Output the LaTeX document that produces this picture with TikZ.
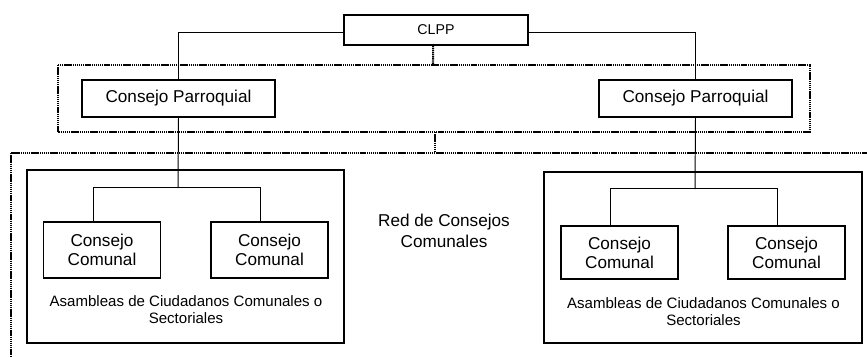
\documentclass[tikz,border=0pt]{standalone}
\usepackage{fontspec}
\setmainfont{Liberation Sans}
\tikzset{
  box/.style={draw, line width=0.8pt, inner sep=0pt, align=center, font=\fontsize{12.2}{13.6}\selectfont},
  parroquia/.style={box, minimum width=4.825cm, minimum height=0.925cm},
  comunal/.style={box, minimum width=2.925cm, minimum height=1.4cm},
  link/.style={line width=0.7pt},
  frame/.style={line width=1.5pt, dash pattern=on 1pt off 0.5pt},
  rotulo/.style={align=center, inner sep=0pt, font=\fontsize{12.2}{14.5}\selectfont},
  asamblea/.style={align=center, inner sep=0pt, font=\fontsize{10.7}{12}\selectfont},
}
\begin{document}
\begin{tikzpicture}[x=0.025cm, y=-0.025cm]
	\useasboundingbox (0,0) rectangle (867,356);
	\clip (0,0) rectangle (867,356);
	% marcos punteados
	\draw[frame] (58,65) rectangle (810,132);
	\draw[frame] (11,153) rectangle (880,380);
	% cajas de las asambleas
	\draw[line width=0.8pt] (27,170) rectangle (344,343);
	\draw[line width=0.8pt] (544,172) rectangle (862,343);
	% nodos
	\node[box, minimum width=4.6cm, minimum height=0.75cm, font=\fontsize{10.1}{12}\selectfont] (clpp) at (436,30) {\raisebox{-2pt}{CLPP}};
	\node[parroquia] (cpL) at (178.5,98.5) {Consejo Parroquial};
	\node[parroquia] (cpR) at (695.5,98.5) {Consejo Parroquial};
	\node[comunal] (ccA) at (102,250) {Consejo\\Comunal};
	\node[comunal] (ccB) at (269.5,250) {Consejo\\Comunal};
	\node[comunal, minimum height=1.325cm] (ccC) at (619.5,252.5) {Consejo\\Comunal};
	\node[comunal, minimum height=1.325cm] (ccD) at (786.5,252.5) {Consejo\\Comunal};
	\node[asamblea] (asmL) at (186,310) {Asambleas de Ciudadanos Comunales o\\Sectoriales};
	\node[asamblea] (asmR) at (703.5,312) {Asambleas de Ciudadanos Comunales o\\Sectoriales};
	\node[rotulo] (red) at (444,231) {Red de Consejos\\Comunales};
	% puntos de union
	\coordinate (jL) at (178,188);
	\coordinate (jR) at (695,189);
	\coordinate (f1) at (433,65);
	\coordinate (f2a) at (435,132);
	\coordinate (f2b) at (435,153);
	% conexiones
	\draw[link] ([yshift=-2pt]clpp.west) -| (cpL.north);
	\draw[link] ([yshift=-2pt]clpp.east) -| (cpR.north);
	\draw[frame] ([xshift=-2pt]clpp.south) -- (f1);
	\draw[frame] (f2a) -- (f2b);
	\draw[link] (cpL.south) -- (jL);
	\draw[link] (cpR.south) -- (jR);
	\draw[link] ([xshift=-0.22cm]ccA.north) -- ++(0,-34) -| ([xshift=-0.22cm]ccB.north);
	\draw[link] ([xshift=-0.22cm]ccC.north) -- ++(0,-37) -| ([xshift=-0.22cm]ccD.north);
\end{tikzpicture}
\end{document}
